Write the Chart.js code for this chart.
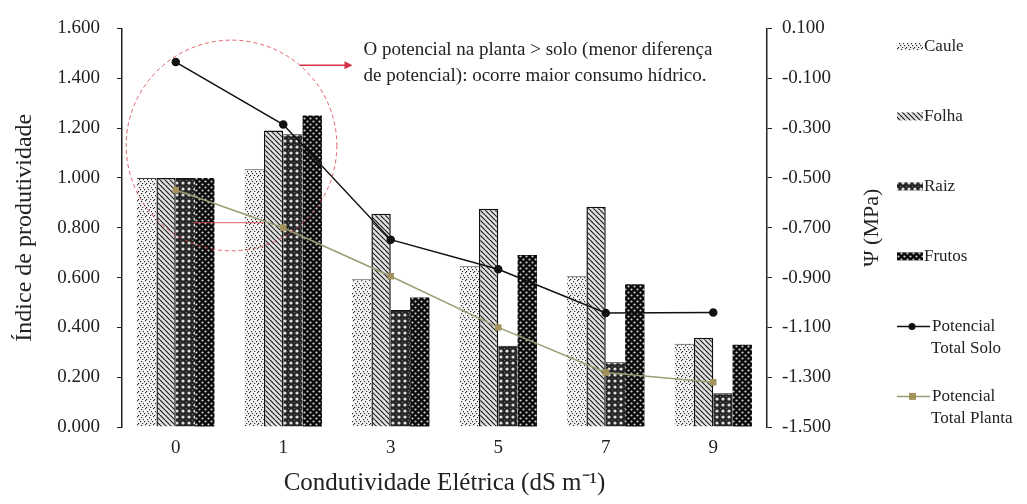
<!DOCTYPE html>
<html>
<head>
<meta charset="utf-8">
<script src="https://cdn.jsdelivr.net/npm/chart.js@4.4.0/dist/chart.umd.min.js"></script>
<style>
  body { margin: 0; background: #fff; }
</style>
</head>
<body>
<canvas id="grafico" width="1027" height="504"></canvas>
<script>
    // dados
    const categorias = ['0', '1', '3', '5', '7', '9'];
    const caule  = [1.000, 1.035, 0.593, 0.645, 0.605, 0.334];
    const folha  = [1.000, 1.190, 0.856, 0.876, 0.884, 0.358];
    const raiz   = [1.000, 1.175, 0.470, 0.326, 0.260, 0.135];
    const frutos = [1.000, 1.250, 0.520, 0.690, 0.573, 0.330];
    const potSolo   = [-0.035, -0.286, -0.748, -0.867, -1.042, -1.040];
    const potPlanta = [-0.549, -0.700, -0.895, -1.100, -1.281, -1.320];

    const nota = [
        'O potencial na planta > solo (menor diferença',
        'de potencial): ocorre maior consumo hídrico.'
    ];
    const tituloDireita = 'Ψ (MPa)';

    const fonte = '"Liberation Serif", "Times New Roman", serif';
    const corTexto = '#222';

    function padrao(tam, desenha) {
        const c = document.createElement('canvas');
        c.width = tam; c.height = tam;
        const g = c.getContext('2d');
        desenha(g, tam);
        return g.createPattern(c, 'repeat');
    }

    // caule: pontilhado
    const pCaule = padrao(8, function (g) {
        g.fillStyle = '#f6f6f6'; g.fillRect(0, 0, 8, 8);
        g.fillStyle = '#2a2a2a';
        [[1, 0], [5, 1], [3, 3], [7, 3], [0, 5], [4, 5], [2, 7], [6, 7]].forEach(function (p) {
            g.fillRect(p[0], p[1], 1.2, 1.2);
        });
    });

    // folha: hachura diagonal
    const pFolha = padrao(5, function (g, t) {
        g.fillStyle = '#e2e2e2'; g.fillRect(0, 0, t, t);
        g.strokeStyle = '#1e1e1e'; g.lineWidth = 1.2;
        for (let k = -t; k <= t; k += t) {
            g.beginPath(); g.moveTo(k, 0); g.lineTo(k + t, t); g.stroke();
        }
    });

    // raiz: fundo escuro com circulos claros
    const pRaiz = padrao(6, function (g) {
        g.fillStyle = '#262626'; g.fillRect(0, 0, 6, 6);
        g.fillStyle = '#e0e0e0';
        g.beginPath(); g.arc(3, 3, 1.6, 0, Math.PI * 2); g.fill();
        g.fillStyle = '#777';
        g.fillRect(0, 0, 1, 1);
    });

    // frutos: preto com pontos claros alternados
    const pFrutos = padrao(6, function (g) {
        g.fillStyle = '#0a0a0a'; g.fillRect(0, 0, 6, 6);
        g.fillStyle = '#d0d0d0';
        g.beginPath(); g.arc(1.5, 1.5, 1.1, 0, Math.PI * 2); g.fill();
        g.beginPath(); g.arc(4.5, 4.5, 1.1, 0, Math.PI * 2); g.fill();
    });

    // legenda a direita e titulo do eixo secundario
    const legendaPlugin = {
        id: 'legenda',
        afterDraw(chart) {
            const ctx = chart.ctx;
            const a = chart.chartArea;
            const x0 = a.right + 130;
            ctx.save();
            ctx.font = '17px ' + fonte;
            ctx.fillStyle = corTexto;
            ctx.textBaseline = 'middle';
            chart.data.datasets.forEach(function (ds, i) {
                const y = a.top + 18 + i * 70;
                if (ds.type === 'line') {
                    ctx.strokeStyle = ds.borderColor;
                    ctx.lineWidth = 1.5;
                    ctx.beginPath(); ctx.moveTo(x0, y); ctx.lineTo(x0 + 33, y); ctx.stroke();
                    ctx.fillStyle = ds.pointBackgroundColor;
                    if (ds.pointStyle === 'rect') {
                        ctx.fillRect(x0 + 12, y - 3.5, 7, 7);
                    } else {
                        ctx.beginPath(); ctx.arc(x0 + 15, y, 3.5, 0, Math.PI * 2); ctx.fill();
                    }
                    ctx.fillStyle = corTexto;
                    const partes = ds.label.split(' ');
                    ctx.fillText(partes[0], x0 + 35, y);
                    ctx.fillText(partes.slice(1).join(' '), x0 + 34, y + 22);
                } else {
                    ctx.fillStyle = ds.backgroundColor;
                    ctx.fillRect(x0, y - 4, 26, 8);
                    ctx.fillStyle = corTexto;
                    ctx.fillText(ds.label, x0 + 27, y);
                }
            });

            // titulo do eixo direito, lido de baixo para cima
            ctx.translate(a.right + 105, (a.top + a.bottom) / 2);
            ctx.rotate(-Math.PI / 2);
            ctx.font = '22px ' + fonte;
            ctx.textAlign = 'center';
            ctx.fillText(tituloDireita, 0, 0);
            ctx.restore();
        }
    };

    // circulo tracejado, setas e texto explicativo
    const notaPlugin = {
        id: 'nota',
        afterDatasetsDraw(chart) {
            const ctx = chart.ctx;
            const xs = chart.scales.x, ys = chart.scales.y;
            const x0 = xs.getPixelForValue(0), x1 = xs.getPixelForValue(1);
            const cx = (x0 + x1) / 2 + 2;
            const cy = ys.getPixelForValue(1.13);
            const r = (x1 - x0) * 0.98;
            ctx.save();
            ctx.strokeStyle = 'rgba(215,60,70,0.8)';
            ctx.lineWidth = 1;
            ctx.setLineDash([4, 3]);
            ctx.beginPath(); ctx.arc(cx, cy, r, 0, Math.PI * 2); ctx.stroke();
            ctx.setLineDash([]);

            // seta superior
            const ya = ys.getPixelForValue(1.452);
            const xa = cx + Math.sqrt(r * r - (cy - ya) * (cy - ya));
            const xb = cx + 121;
            ctx.strokeStyle = '#d9304a';
            ctx.fillStyle = '#d9304a';
            ctx.lineWidth = 1.5;
            ctx.beginPath(); ctx.moveTo(xa, ya); ctx.lineTo(xb - 6, ya); ctx.stroke();
            ctx.beginPath(); ctx.moveTo(xb, ya); ctx.lineTo(xb - 8, ya - 4); ctx.lineTo(xb - 8, ya + 4); ctx.closePath(); ctx.fill();

            // seta inferior
            const yc = ys.getPixelForValue(0.82);
            ctx.strokeStyle = 'rgba(220,70,80,0.7)';
            ctx.lineWidth = 1.2;
            ctx.beginPath(); ctx.moveTo(cx + 32, yc); ctx.lineTo(cx - 38, yc); ctx.stroke();

            ctx.font = '19px ' + fonte;
            ctx.fillStyle = corTexto;
            ctx.textBaseline = 'middle';
            ctx.fillText(nota[0], xb + 11, ya - 15);
            ctx.fillText(nota[1], xb + 11, ya + 11);
            ctx.restore();
        }
    };

    const ctx1 = document.getElementById('grafico').getContext('2d');

    const grafico = new Chart(ctx1, {
        type: 'bar',
        data: {
            labels: categorias,
            datasets: [
                {
                    label: 'Caule', data: caule, yAxisID: 'y', order: 2,
                    backgroundColor: pCaule, borderColor: '#444',
                    borderWidth: { top: 1, left: 0, right: 0, bottom: 0 }
                },
                {
                    label: 'Folha', data: folha, yAxisID: 'y', order: 2,
                    backgroundColor: pFolha, borderColor: '#111', borderWidth: 1.5
                },
                {
                    label: 'Raiz', data: raiz, yAxisID: 'y', order: 2,
                    backgroundColor: pRaiz, borderColor: '#111',
                    borderWidth: { top: 1, left: 0, right: 0, bottom: 0 }
                },
                {
                    label: 'Frutos', data: frutos, yAxisID: 'y', order: 2,
                    backgroundColor: pFrutos, borderWidth: 0
                },
                {
                    type: 'line', label: 'Potencial Total Solo', data: potSolo, yAxisID: 'y1', order: 0,
                    borderColor: '#111', borderWidth: 1.5,
                    pointBackgroundColor: '#111', pointBorderColor: '#111',
                    pointStyle: 'circle', pointRadius: 3.5
                },
                {
                    type: 'line', label: 'Potencial Total Planta', data: potPlanta, yAxisID: 'y1', order: 0,
                    borderColor: '#9c9c74', borderWidth: 1.5,
                    pointBackgroundColor: '#a3925c', pointBorderColor: '#a3925c',
                    pointStyle: 'rect', pointRadius: 3.5
                }
            ]
        },
        options: {
            responsive: false,
            animation: false,
            layout: {
                padding: { left: 0, right: 147, top: 25, bottom: 0 }
            },
            plugins: {
                legend: { display: false },
                tooltip: { enabled: false }
            },
            datasets: {
                bar: { categoryPercentage: 0.72, barPercentage: 1.0 }
            },
            scales: {
                x: {
                    afterFit: function (s) { s.height = 77; },
                    grid: { display: false, drawTicks: false },
                    border: { display: false },
                    ticks: { color: corTexto, padding: 10, font: { family: fonte, size: 19 } },
                    title: {
                        display: true,
                        text: 'Condutividade Elétrica (dS m⁻¹)',
                        color: corTexto,
                        font: { family: fonte, size: 25 },
                        padding: { top: 0, bottom: 6 }
                    }
                },
                y: {
                    position: 'left',
                    min: 0, max: 1.6,
                    afterFit: function (s) { s.width = 122; },
                    grid: { drawOnChartArea: false, tickLength: 5, color: '#222' },
                    border: { display: true, color: '#222', width: 1.5 },
                    ticks: {
                        stepSize: 0.2, padding: 17, color: corTexto,
                        font: { family: fonte, size: 19 },
                        callback: function (v) { return v.toFixed(3); }
                    },
                    title: {
                        display: true,
                        text: 'Índice de produtividade',
                        color: corTexto,
                        font: { family: fonte, size: 24 },
                        padding: { top: 10, bottom: 0 }
                    }
                },
                y1: {
                    position: 'right',
                    min: -1.5, max: 0.1,
                    afterFit: function (s) { s.width = 113; },
                    grid: { drawOnChartArea: false, tickLength: 5, color: '#222' },
                    border: { display: true, color: '#222', width: 1.5 },
                    ticks: {
                        stepSize: 0.2, padding: 10, color: corTexto,
                        font: { family: fonte, size: 19 },
                        callback: function (v) { return v.toFixed(3); }
                    },
                    title: { display: false }
                }
            }
        },
        plugins: [notaPlugin, legendaPlugin]
    });
</script>
</body>
</html>
